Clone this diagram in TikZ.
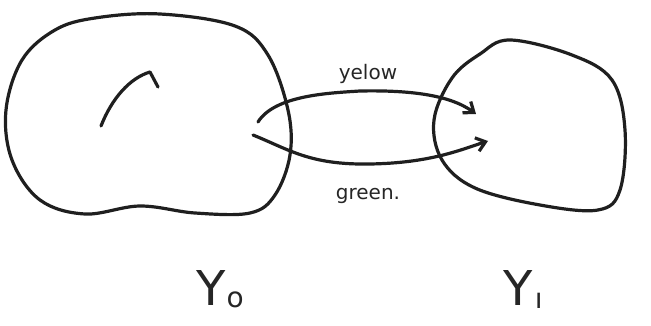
\documentclass[tikz,border=0pt]{standalone}
\usepackage{fontspec}
\setmainfont{DejaVu Sans}
\usetikzlibrary{arrows.meta}
\begin{document}
\begin{tikzpicture}[x=1pt,y=-1pt,
  pen/.style={line width=3.2pt,line cap=round,line join=round,color=black!88},
  arr/.style={pen,-{Straight Barb[length=9pt,width=14pt,line width=3.2pt]}},
  lbl/.style={font=\fontsize{20}{20}\selectfont,color=black!85},
  big/.style={font=\fontsize{48}{48}\selectfont,color=black!85}]
\useasboundingbox (0,0) rectangle (651,326);
% left blob
\draw[pen] plot[smooth cycle,tension=0.6] coordinates {
  (95,18) (160,14) (235,26) (268,55) (288,110) (290,155) (275,195) (250,213)
  (195,213) (140,206) (85,214) (40,200) (12,160) (6,110) (22,60) (55,30)};
% right blob
\draw[pen] plot[smooth cycle,tension=0.6] coordinates {
  (510,40) (572,55) (612,80) (625,130) (620,190) (598,210) (540,205)
  (475,188) (442,160) (434,120) (452,78) (480,54)};
% inner arc
\draw[pen] (101,126) .. controls (112,98) and (130,78) .. (150,72) -- (158,87);
% arrows
\coordinate (a1) at (258,122);
\coordinate (b1) at (476,114);
\coordinate (a2) at (253,135);
\coordinate (b2) at (488,141);
\draw[arr] (a1) .. controls (275,95) and (330,93) .. (360,91)
  .. controls (410,90) and (450,95) .. (b1);
\draw[arr] (a2) .. controls (290,150) and (310,165) .. (370,164)
  .. controls (430,163) and (460,150) .. (b2);
\node[lbl] (ye) at (368,74) {yelow};
\node[lbl] (gr) at (368,196) {green.};
\node[big,anchor=base] (y0) at (220,305) {Y\kern1pt\raisebox{-2pt}{\fontsize{28}{28}\selectfont o}};
\node[big,anchor=base] (y1) at (523,305) {Y\kern2pt\raisebox{-3pt}{\fontsize{28}{28}\selectfont ı}};
\end{tikzpicture}
\end{document}
